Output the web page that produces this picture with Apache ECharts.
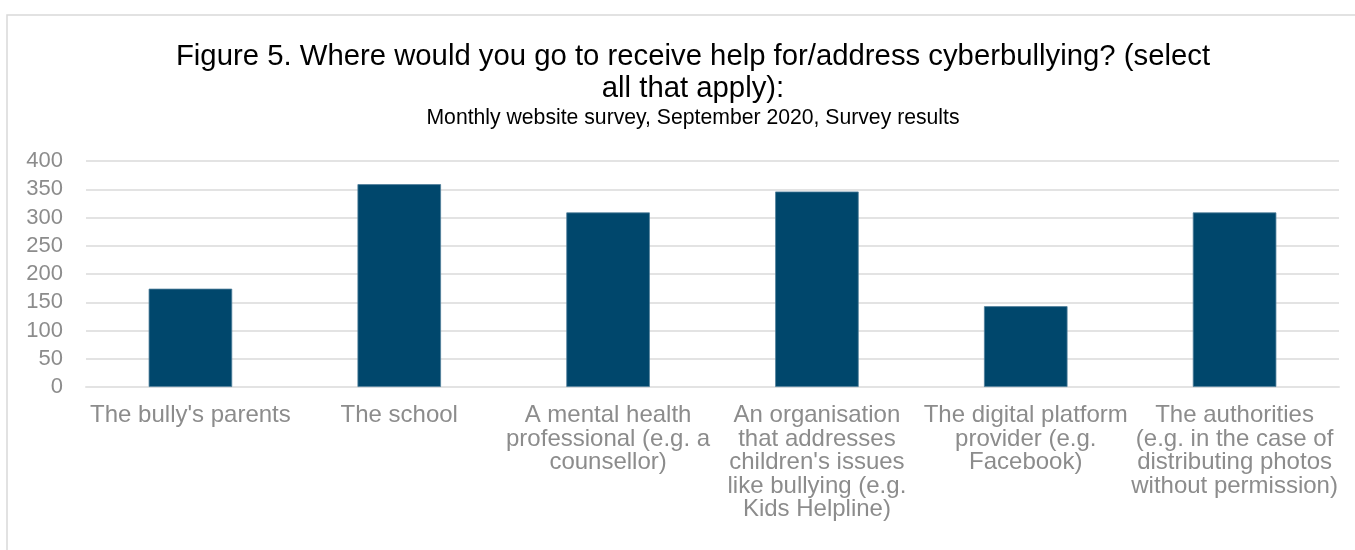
<!DOCTYPE html>
<html>
<head>
<meta charset="utf-8">
<script src="https://cdn.jsdelivr.net/npm/echarts@6/dist/echarts.min.js"></script>
<style>
html,body{margin:0;padding:0;background:#fff;}
#chart{width:1355px;height:550px;}
</style>
</head>
<body>
<div id="chart"></div>
<script>
const titleText = "Figure 5. Where would you go to receive help for/address cyberbullying? (select\nall that apply):";
const subtitleText = "Monthly website survey, September 2020, Survey results";
const categories = [
  "The bully's parents",
  "The school",
  "A mental health\nprofessional (e.g. a\ncounsellor)",
  "An organisation\nthat addresses\nchildren's issues\nlike bullying (e.g.\nKids Helpline)",
  "The digital platform\nprovider (e.g.\nFacebook)",
  "The authorities\n(e.g. in the case of\ndistributing photos\nwithout permission)"
];
const values = [174, 359, 309, 346, 143, 309];
const yTicks = [0, 50, 100, 150, 200, 250, 300, 350, 400];

const chart = echarts.init(document.getElementById('chart'), null, {renderer: 'canvas'});
const FONT = '"Liberation Sans", Arial, sans-serif';
chart.setOption({
  animation: false,
  backgroundColor: '#ffffff',
  graphic: [{
    type: 'rect',
    shape: {x: 7, y: 15, width: 1400, height: 600},
    style: {fill: 'none', stroke: '#d9d9d9', lineWidth: 1.5},
    silent: true
  }],
  title: [{
    text: titleText,
    left: 688,
    top: 36,
    textAlign: 'center',
    textStyle: {fontFamily: FONT, fontSize: 29.3, fontWeight: 'normal', color: '#000000', lineHeight: 32}
  }, {
    text: subtitleText,
    left: 688,
    top: 102,
    textAlign: 'center',
    textStyle: {fontFamily: FONT, fontSize: 21.2, fontWeight: 'normal', color: '#000000', lineHeight: 22}
  }],
  grid: {left: 86, right: 16, top: 161, bottom: 163, containLabel: false},
  xAxis: {
    type: 'category',
    data: categories,
    axisLine: {show: true, lineStyle: {color: '#e3e3e3', width: 2}},
    axisTick: {show: false},
    axisLabel: {
      interval: 0,
      margin: 17,
      fontFamily: FONT,
      fontSize: 24,
      lineHeight: 23.5,
      color: '#8c8c8c',
      align: 'center'
    }
  },
  yAxis: {
    type: 'value',
    min: yTicks[0],
    max: yTicks[yTicks.length - 1],
    interval: yTicks[1] - yTicks[0],
    axisLine: {show: false},
    axisTick: {show: false},
    splitLine: {show: true, lineStyle: {color: '#e3e3e3', width: 2}},
    axisLabel: {
      margin: 23,
      fontFamily: FONT,
      fontSize: 22,
      color: '#8c8c8c'
    }
  },
  series: [{
    type: 'bar',
    data: values,
    barWidth: '40%',
    itemStyle: {color: '#00476C', borderColor: '#4f7f9a', borderWidth: 0.8},
    silent: true
  }]
});
</script>
</body>
</html>
